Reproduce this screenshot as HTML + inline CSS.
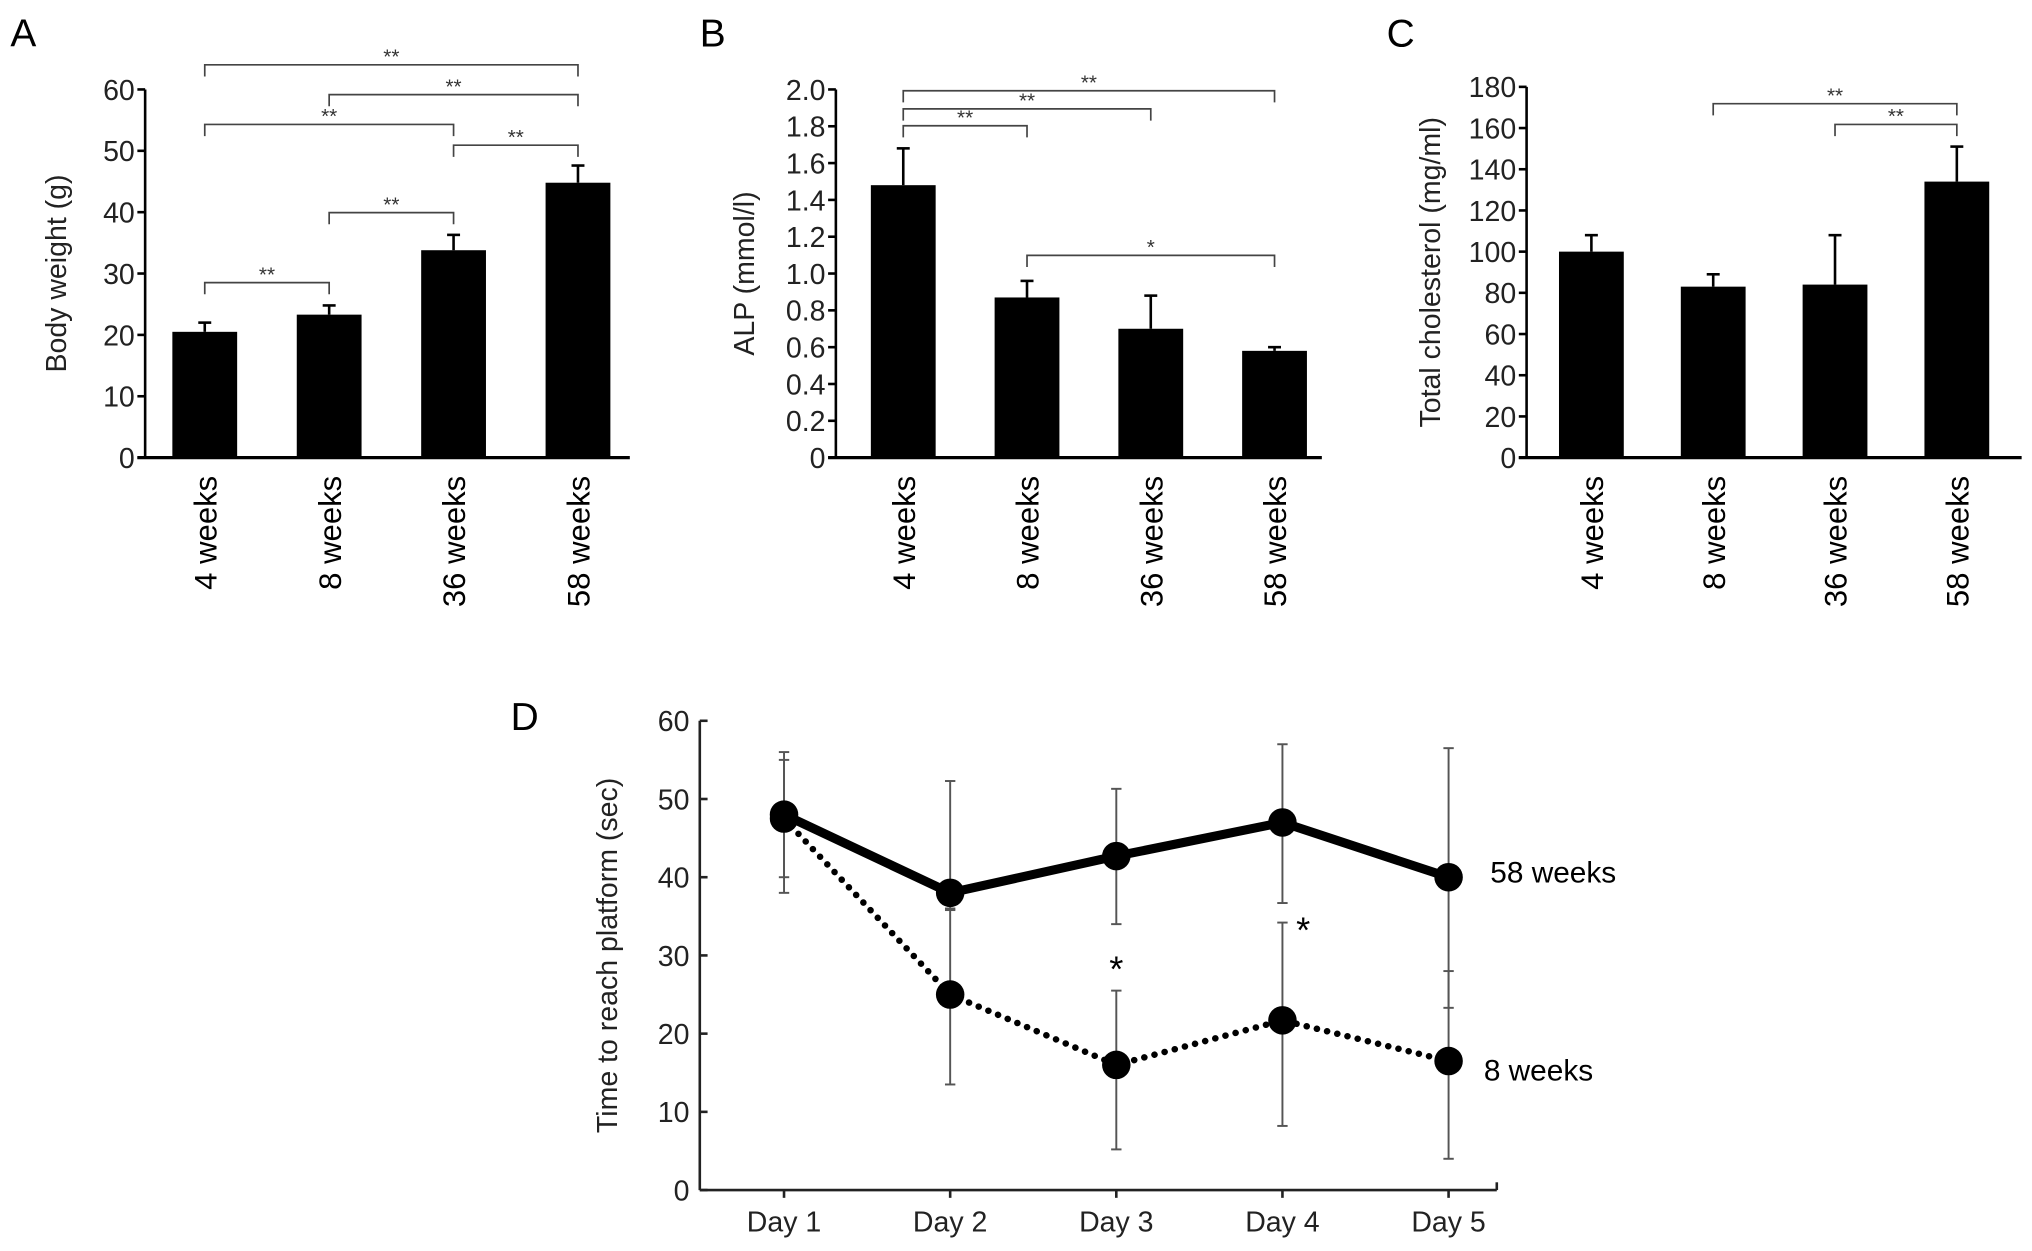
<!DOCTYPE html>
<html><head><meta charset="utf-8"><style>
html,body{margin:0;padding:0;background:#fff;}
svg{display:block;font-family:"Liberation Sans",Arial,sans-serif;}
</style></head><body>
<svg id="fig" width="2032" height="1251" viewBox="0 0 1568 965" preserveAspectRatio="none" xmlns="http://www.w3.org/2000/svg">
<text x="8" y="36" font-size="30">A</text>
<text x="540" y="36" font-size="30">B</text>
<text x="1070" y="36" font-size="30">C</text>
<text x="394" y="563" font-size="30">D</text>
</svg>
<script>
const categories = ["4 weeks","8 weeks","36 weeks","58 weeks"];
const weightValues = [20.5, 23.3, 33.8, 44.8];
const weightErrors = [1.5, 1.5, 2.5, 2.8];
const weightTicks = [0,10,20,30,40,50,60];
const alpValues = [1.48, 0.87, 0.70, 0.58];
const alpErrors = [0.20, 0.09, 0.18, 0.02];
const alpTicks = [0,0.2,0.4,0.6,0.8,1.0,1.2,1.4,1.6,1.8,2.0];
const alpTickLabels = ["0","0.2","0.4","0.6","0.8","1.0","1.2","1.4","1.6","1.8","2.0"];
const cholValues = [100, 83, 84, 134];
const cholErrors = [8, 6, 24, 17];
const cholTicks = [0,20,40,60,80,100,120,140,160,180];
const days = ["Day 1","Day 2","Day 3","Day 4","Day 5"];
const old58 = [48, 38, 42.7, 47, 40];
const old58Hi = [56, 52.3, 51.3, 57, 56.5];
const old58Lo = [40, 35.8, 34, 36.7, 23.3];
const young8 = [47.5, 25, 16, 21.7, 16.5];
const young8Hi = [55, 36, 25.5, 34.2, 28];
const young8Lo = [38, 13.5, 5.2, 8.2, 4];
const dTicks = [0,10,20,30,40,50,60];

const NS="http://www.w3.org/2000/svg";
const svg=document.getElementById('fig');
function mk(tag,attrs,parent,text){const e=document.createElementNS(NS,tag);for(const k in attrs)e.setAttribute(k,attrs[k]);if(text!==undefined)e.textContent=text;(parent||svg).appendChild(e);return e;}

function barPanel(cfg){
  const g=mk('g',{});
  
  
  const y=v=>cfg.y0-(v-cfg.min)/(cfg.max-cfg.min)*(cfg.y0-cfg.yTop);
  const x=i=>cfg.xs0+i*cfg.dx;
  const ax=mk('line',{x1:cfg.ax,y1:cfg.y0+1,x2:cfg.ax,y2:cfg.yTop,stroke:'#000','stroke-width':2},g);
  
  const xa=mk('line',{x1:cfg.ax-6,y1:cfg.y0,x2:cfg.axEnd,y2:cfg.y0,stroke:'#000','stroke-width':2.5},g);
  
  cfg.ticks.forEach((t,i)=>{
    mk('line',{x1:cfg.ax-6,y1:y(t),x2:cfg.ax,y2:y(t),stroke:'#000','stroke-width':2},g);
    const tl=mk('text',{x:cfg.ax-8,y:y(t)+8,'font-size':22,'text-anchor':'end',fill:'#222'},g,cfg.tickLabels?cfg.tickLabels[i]:String(t));
    
  });
  const yl=mk('text',{x:0,y:0,'font-size':22,'text-anchor':'middle',transform:`translate(${cfg.ylx},${(cfg.y0+cfg.yTop)/2}) rotate(-90)`,fill:'#222'},g,cfg.ylabel);
  
  cfg.values.forEach((v,i)=>{
    const cx=x(i);
    const top=y(v+cfg.errors[i]);
    mk('line',{x1:cx,y1:y(v),x2:cx,y2:top,stroke:'#000','stroke-width':2},g);
    mk('line',{x1:cx-5,y1:top,x2:cx+5,y2:top,stroke:'#000','stroke-width':2},g);
    const b=mk('rect',{x:cx-cfg.bw/2,y:y(v),width:cfg.bw,height:cfg.y0-y(v),fill:'#000'},g);
    
    
    const lb=mk('text',{x:0,y:0,'font-size':24,'text-anchor':'end',transform:`translate(${cx+9},${cfg.y0+14}) rotate(-90)`},g,categories[i]);
    
  });
  cfg.brackets.forEach(br=>{
    const x1=x(br[0]),x2=x(br[1]),by=br[2];
    mk('path',{d:`M${x1},${by+9}V${by}H${x2}V${by+9}`,fill:'none',stroke:'#444','stroke-width':1.3},g);
    const s=mk('text',{x:(x1+x2)/2,y:by-1,'font-size':16,'text-anchor':'middle',fill:'#333'},g,br[3]);
    
  });
}
barPanel({name:'panel-a-body-weight',ax:112,axEnd:486,y0:353,yTop:69,min:0,max:60,xs0:158,dx:96,bw:50,ticks:weightTicks,values:weightValues,errors:weightErrors,ylabel:'Body weight (g)',ylx:51,
 brackets:[[0,1,218,'**'],[1,2,164,'**'],[2,3,112,'**'],[0,2,96,'**'],[1,3,73,'**'],[0,3,50,'**']]});
barPanel({name:'panel-b-alp',ax:645,axEnd:1020,y0:353,yTop:69,min:0,max:2,xs0:697,dx:95.5,bw:50,ticks:alpTicks,tickLabels:alpTickLabels,values:alpValues,errors:alpErrors,ylabel:'ALP (mmol/l)',ylx:582,
 brackets:[[0,1,97,'**'],[0,2,84,'**'],[0,3,70,'**'],[1,3,197,'*']]});
barPanel({name:'panel-c-cholesterol',ax:1178,axEnd:1560,y0:353,yTop:67,min:0,max:180,xs0:1228,dx:94,bw:50,ticks:cholTicks,values:cholValues,errors:cholErrors,ylabel:'Total cholesterol (mg/ml)',ylx:1111,
 brackets:[[1,3,80,'**'],[2,3,96,'**']]});

// Panel D
(function(){
  const g=mk('g',{});
  
  
  const ax=540,y0=918,yTop=556,axEnd=1155;
  const y=v=>y0-v/60*(y0-yTop);
  const x=i=>605+i*128.2;
  const a=mk('line',{x1:ax,y1:y0,x2:ax,y2:yTop,stroke:'#222','stroke-width':2},g);
  
  const b=mk('line',{x1:ax,y1:y0,x2:axEnd,y2:y0,stroke:'#222','stroke-width':2},g);
  
  dTicks.forEach(t=>{
    mk('line',{x1:ax,y1:y(t),x2:ax+6,y2:y(t),stroke:'#222','stroke-width':2},g);
    const tl=mk('text',{x:ax-8,y:y(t)+8,'font-size':22,'text-anchor':'end',fill:'#222'},g,String(t));
    
  });
  mk('line',{x1:axEnd,y1:y0,x2:axEnd,y2:y0-6,stroke:'#222','stroke-width':2},g);
  days.forEach((d,i)=>{
    mk('line',{x1:x(i),y1:y0,x2:x(i),y2:y0+6,stroke:'#222','stroke-width':2},g);
    const tl=mk('text',{x:x(i),y:y0+32,'font-size':22,'text-anchor':'middle',fill:'#222'},g,d);
    
  });
  const yl=mk('text',{x:0,y:0,'font-size':22,'text-anchor':'middle',transform:`translate(476,${(y0+yTop)/2}) rotate(-90)`,fill:'#222'},g,'Time to reach platform (sec)');
  
  function errs(vals,hi,lo){vals.forEach((v,i)=>{
    mk('line',{x1:x(i),y1:y(hi[i]),x2:x(i),y2:y(lo[i]),stroke:'#555','stroke-width':1.5},g);
    mk('line',{x1:x(i)-4,y1:y(hi[i]),x2:x(i)+4,y2:y(hi[i]),stroke:'#555','stroke-width':1.5},g);
    mk('line',{x1:x(i)-4,y1:y(lo[i]),x2:x(i)+4,y2:y(lo[i]),stroke:'#555','stroke-width':1.5},g);
  });}
  errs(old58,old58Hi,old58Lo);errs(young8,young8Hi,young8Lo);
  const p8=mk('polyline',{points:young8.map((v,i)=>x(i)+','+y(v)).join(' '),fill:'none',stroke:'#000','stroke-width':5,'stroke-dasharray':'0.1 8','stroke-linecap':'round'},g);
  
  const p58=mk('polyline',{points:old58.map((v,i)=>x(i)+','+y(v)).join(' '),fill:'none',stroke:'#000','stroke-width':7,'stroke-linejoin':'round'},g);
  
  young8.forEach((v,i)=>{const c=mk('circle',{cx:x(i),cy:y(v),r:11,fill:'#000'},g);
    });
  old58.forEach((v,i)=>{const c=mk('circle',{cx:x(i),cy:y(v),r:11,fill:'#000'},g);
    });
  const l1=mk('text',{x:1150,y:y(old58[4])+4,'font-size':23},g,'58 weeks');
  
  const l2=mk('text',{x:1145,y:y(young8[4])+15,'font-size':23},g,'8 weeks');
  
  const s1=mk('text',{x:x(2),y:y(29)+14,'font-size':28,'text-anchor':'middle'},g,'*');
  
  const s2=mk('text',{x:x(3)+16,y:y(34)+14,'font-size':28,'text-anchor':'middle'},g,'*');
  
})();
</script>
</body></html>
